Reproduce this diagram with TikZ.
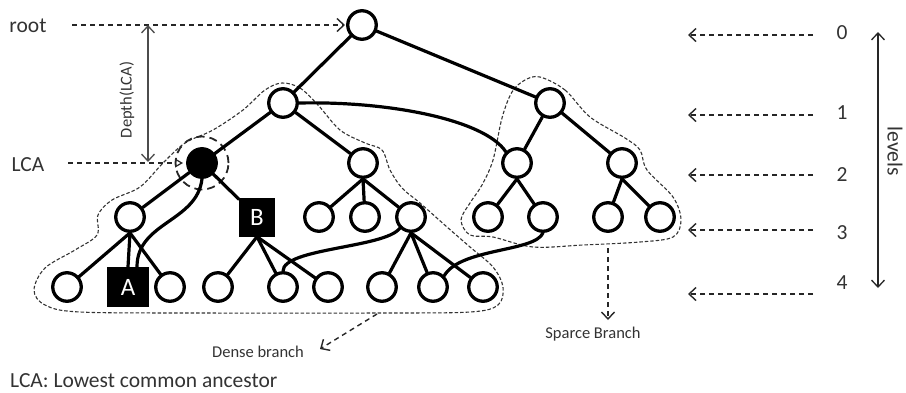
\documentclass[tikz,border=0pt]{standalone}
\usepackage{fontspec}
\setmainfont{Carlito}
\usetikzlibrary{arrows.meta}
\definecolor{txt}{gray}{0.2}
\begin{document}
\begin{tikzpicture}[x=1pt,y=-1pt,
  tn/.style={circle, draw=black, line width=3.3pt, fill=white, minimum size=28.5pt, inner sep=0pt},
  lcanode/.style={circle, draw=black, line width=3.3pt, fill=black, minimum size=28.5pt, inner sep=0pt},
  sq/.style={rectangle, fill=black, text=white, inner sep=0pt, font=\fontsize{25}{25}\selectfont},
  edge/.style={line width=3.2pt, line cap=round},
  lbl/.style={text=txt, inner sep=0pt, font=\fontsize{21.5}{25}\selectfont},
  small/.style={text=txt, inner sep=0pt, font=\fontsize{16.5}{20}\selectfont},
  annot/.style={draw=black!85, line width=1.4pt, dash pattern=on 5pt off 4pt, -{Straight Barb[length=7pt,width=13pt,line width=1.4pt]}},
  outline/.style={draw=black!80, line width=1.1pt, dash pattern=on 3.5pt off 2pt},
  solidarrow/.style={draw=black!70, line width=1.3pt, {Straight Barb[length=7pt,width=13pt,line width=1.3pt]}-{Straight Barb[length=7pt,width=13pt,line width=1.3pt]}}
]
\useasboundingbox (0,0) rectangle (906,392);

% branch outlines
\draw[outline] plot[smooth cycle, tension=0.55] coordinates {
  (282,83) (300,88) (318,105) (340,130) (365,143) (382,150) (390,170) (402,188)
  (420,203) (447,227) (470,247) (493,267) (503,287) (498,305) (470,312) (380,313)
  (200,313) (80,312) (45,305) (34,290) (45,268) (75,250) (97,235) (98,215)
  (112,200) (140,187) (163,163) (185,143) (213,130) (243,110) (265,90)};
\draw[outline] plot[smooth cycle, tension=0.55] coordinates {
  (540,77) (565,90) (590,117) (625,138) (640,150) (647,170) (673,197) (681,220)
  (673,237) (640,242) (583,245) (533,247) (493,237) (470,235) (461,220) (470,203)
  (482,185) (493,160) (502,118) (512,92) (525,80)};

% tree nodes
\node[tn] (root) at (362,25) {};
\node[tn] (l1a) at (283,103) {};
\node[tn] (l1b) at (550,103) {};
\node[lcanode] (lca) at (202,163) {};
\node[tn] (l2b) at (363,163) {};
\node[tn] (r2a) at (517,163) {};
\node[tn] (r2b) at (622,163) {};
\node[tn] (l3a) at (130,217) {};
\node[sq, minimum width=36pt, minimum height=39pt] (B) at (257,217) {B};
\node[tn] (l3c) at (319,217) {};
\node[tn] (l3d) at (365,217) {};
\node[tn] (l3e) at (411,217) {};
\node[tn] (s3a) at (488,217) {};
\node[tn] (s3b) at (543,217) {};
\node[tn] (s3c) at (608,217) {};
\node[tn] (s3d) at (660,217) {};
\node[tn] (l4a) at (67,287) {};
\node[sq, minimum width=42pt, minimum height=40pt] (A) at (128,287) {A};
\node[tn] (l4c) at (170,287) {};
\node[tn] (l4d) at (218,287) {};
\node[tn] (l4e) at (283,287) {};
\node[tn] (l4f) at (328,287) {};
\node[tn] (l4g) at (382,287) {};
\node[tn] (l4h) at (433,287) {};
\node[tn] (l4i) at (483,287) {};

% dashed circle around LCA
\draw[black!85, line width=1.8pt, dash pattern=on 8pt off 5pt] (lca.center) circle[radius=26.5pt];

% tree edges
\draw[edge] (root) -- (l1a);
\draw[edge] (root) -- (l1b);
\draw[edge] (l1a) -- (lca);
\draw[edge] (l1a) -- (l2b);
\draw[edge] (l1b) -- (r2a);
\draw[edge] (l1b) -- (r2b);
\draw[edge] (lca) -- (l3a);
\draw[edge] (lca) -- (B);
\draw[edge] (l2b.south) -- (l3c);
\draw[edge] (l2b.south) -- (l3d);
\draw[edge] (l2b.south) -- (l3e);
\draw[edge] (r2a.south) -- (s3a);
\draw[edge] (r2a.south) -- (s3b);
\draw[edge] (r2b.south) -- (s3c);
\draw[edge] (r2b.south) -- (s3d);
\draw[edge] (l3a.south) -- (l4a);
\draw[edge] (l3a.south) -- ([xshift=0pt]A.north);
\draw[edge] (l3a.south) -- (l4c);
\draw[edge] (B.south) -- (l4d);
\draw[edge] (B.south) -- (l4e);
\draw[edge] (B.south) -- (l4f);
\draw[edge] (l3e.south) -- (l4g);
\draw[edge] (l3e.south) -- (l4h);
\draw[edge] (l3e.south) -- (l4i);

% curved edges
\draw[edge] (l1a.east) .. controls (390,101) and (485,120) .. (r2a.north west);
\draw[edge] (lca.south) .. controls (197,222) and (137,222) .. ([xshift=9pt]A.north);
\draw[edge] (l3e.south west) .. controls (385,248) and (283,248) .. (l4e.north);
\draw[edge] (s3b.south) .. controls (535,252) and (460,248) .. (l4h.north east);

% left annotations
\node[lbl] (troot) at (28,26) {root};
\node[lbl] (tlca) at (28,165) {LCA};
\coordinate (rootend) at (345,25);
\coordinate (rootstart) at (72,25);
\draw[annot] (rootstart) -- (rootend);
\coordinate (lcastart) at (68,163);
\coordinate (lcaend) at (183,163);
\draw[draw=black!85, line width=1.4pt, dash pattern=on 5pt off 4pt, -{Triangle[open,length=8pt,width=9pt,line width=1.2pt]}] (lcastart) -- (lcaend);
\coordinate (dtop) at (148,25);
\coordinate (dbot) at (148,162);
\draw[solidarrow] (dtop) -- (dbot);
\node[small, rotate=90] (tdepth) at (127,100) {Depth(LCA)};

% right annotations: levels
\foreach \n/\ya/\yt in {0/35/33, 1/115/113, 2/175/175, 3/230/233, 4/294/283} {
  \node[lbl] (lev\n) at (842,\yt) {\n};
  \coordinate (ls\n) at (813,\ya);
  \coordinate (le\n) at (688,\ya);
  \draw[annot] (ls\n) -- (le\n);
}
\coordinate (vtop) at (878,32);
\coordinate (vbot) at (878,288);
\draw[solidarrow, draw=black!85] (vtop) -- (vbot);
\node[lbl, rotate=-90] (tlevels) at (895,151) {levels};

% branch labels
\coordinate (dstart) at (377,314);
\coordinate (dend) at (320,349);
\draw[annot] (dstart) -- (dend);
\node[small] (tdense) at (258,352) {Dense branch};
\coordinate (sstart) at (608,248);
\coordinate (send) at (608,320);
\draw[annot] (sstart) -- (send);
\node[small] (tsparse) at (593,334) {Sparce Branch};

\node[lbl, anchor=west] (tlegend) at (10,381) {LCA: Lowest common ancestor};
\end{tikzpicture}
\end{document}
